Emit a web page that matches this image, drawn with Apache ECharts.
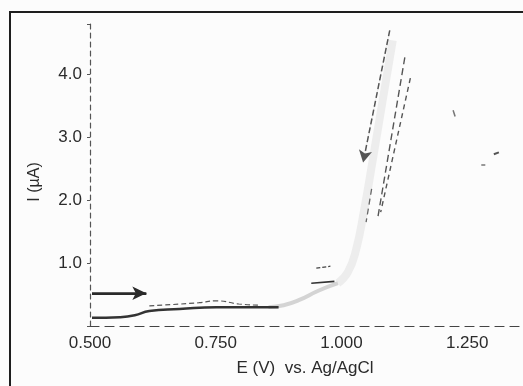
<!DOCTYPE html>
<html><head><meta charset="utf-8">
<script src="https://cdn.jsdelivr.net/npm/echarts@6/dist/echarts.min.js"></script>
<style>html,body{margin:0;padding:0;background:#fcfcfc}#c{width:523px;height:386px}</style>
</head><body><div id="c"></div>
<script>
// ---- data (E in V vs Ag/AgCl, I in µA) ----
const xTicks = [0.5, 0.75, 1.0, 1.25];
const yTicks = [1, 2, 3, 4];
const baseE = [0.504, 0.559, 0.589, 0.618, 0.678, 0.751, 0.816, 0.875];
const baseI = [0.13, 0.14, 0.17, 0.24, 0.27, 0.30, 0.30, 0.30];
const upperE = [0.618, 0.717, 0.751, 0.796, 0.836];
const upperI = [0.32, 0.37, 0.40, 0.35, 0.33];
const riseLowE = [0.855, 0.885, 0.915, 0.954, 0.993];
const riseLowI = [0.30, 0.33, 0.41, 0.56, 0.68];
const riseHighE = [0.993, 1.013, 1.029, 1.045, 1.062, 1.082, 1.102];
const riseHighI = [0.68, 0.86, 1.21, 1.84, 2.63, 3.59, 4.54];
const segHiE = [0.950, 0.978];
const segHiI = [0.92, 0.95];
const segLoE = [0.940, 0.986];
const segLoI = [0.68, 0.71];
const sweep1E = [1.096, 1.043];
const sweep1I = [4.70, 2.60];
const sweep1bE = [1.060, 1.049];
const sweep1bI = [2.18, 1.65];
const sweep2E = [1.126, 1.072];
const sweep2I = [4.27, 1.71];
const sweep3E = [1.137, 1.078];
const sweep3I = [3.94, 1.81];
const fragAE = [1.222, 1.226];
const fragAI = [3.43, 3.33];
const fragBE = [1.303, 1.313];
const fragBI = [2.73, 2.76];
const fragCE = [1.278, 1.286];
const fragCI = [2.56, 2.56];
const arrowE = [0.504, 0.612];
const arrowI = [0.52, 0.52];

const zip = (a, b) => a.map((v, i) => [v, b[i]]);
const FONT = '"Liberation Sans", Arial, sans-serif';
const INK = '#2b2b2b';

function seg(E, I, opt) {
  return Object.assign({
    type: 'line', data: zip(E, I), showSymbol: false, silent: true,
    lineStyle: { color: INK, width: 1.5 }
  }, opt || {});
}

const chart = echarts.init(document.getElementById('c'), null, { renderer: 'canvas' });
chart.setOption({
  backgroundColor: '#fcfcfc',
  animation: false,
  grid: { left: 90, right: 0, top: 24, bottom: 60 },
  xAxis: {
    type: 'value', min: 0.5, max: 1.355, interval: 0.25,
    name: 'E (V)  vs. Ag/AgCl', nameLocation: 'middle', nameGap: 34,
    nameTextStyle: { fontFamily: FONT, fontSize: 17, color: INK },
    axisLine: { show: true, lineStyle: { color: '#444', type: [9, 6], width: 1.2 } },
    axisTick: { show: false },
    splitLine: { show: false },
    axisLabel: {
      fontFamily: FONT, fontSize: 17, color: INK, margin: 9,
      formatter: v => xTicks.some(t => Math.abs(t - v) < 1e-6) ? v.toFixed(3) : ''
    }
  },
  yAxis: {
    type: 'value', min: 0, max: 4.8, interval: 1,
    name: 'I (\u00b5A)', nameLocation: 'middle', nameGap: 47, nameRotate: 90,
    nameTextStyle: { fontFamily: FONT, fontSize: 16, color: INK, padding: [0, 0, 0, -14] },
    axisLine: { show: true, lineStyle: { color: '#555', type: [5, 4], width: 1.2 } },
    axisTick: { show: true, length: 3, lineStyle: { color: '#555' } },
    splitLine: { show: false },
    axisLabel: {
      fontFamily: FONT, fontSize: 17, color: INK, margin: 8,
      formatter: v => yTicks.some(t => Math.abs(t - v) < 1e-6) ? v.toFixed(1) : ''
    }
  },
  graphic: [{
    type: 'rect', shape: { x: 10, y: 12, width: 600, height: 500 },
    style: { fill: 'none', stroke: '#1e1e1e', lineWidth: 2 }, silent: true
  }],
  series: [
    seg(riseHighE, riseHighI, { smooth: true, lineStyle: { color: '#ededed', width: 8 } }),
    seg(riseLowE, riseLowI, { smooth: true, lineStyle: { color: '#d4d4d4', width: 4 } }),
    seg(baseE, baseI, { smooth: true, lineStyle: { color: '#333', width: 2.5 } }),
    seg(upperE, upperI, { smooth: true, lineStyle: { color: '#555', width: 1.2, type: [5, 3] } }),
    seg(segHiE, segHiI, { lineStyle: { color: '#444', width: 1.3, type: [4, 2] } }),
    seg(segLoE, segLoI, { lineStyle: { color: '#333', width: 1.6 } }),
    seg(sweep1E, sweep1I, {
      lineStyle: { color: '#555', width: 1.5, type: [6, 3] },
      markLine: {
        silent: true, symbol: ['none', 'arrow'], symbolSize: [10, 12],
        label: { show: false },
        lineStyle: { color: '#555', width: 0.1, type: 'solid' },
        data: [[{ coord: [sweep1E[0], sweep1I[0]] }, { coord: [sweep1E[1], sweep1I[1]] }]]
      }
    }),
    seg(sweep1bE, sweep1bI, { lineStyle: { color: '#666', width: 1.3, type: [6, 4] } }),
    seg(sweep2E, sweep2I, { lineStyle: { color: '#555', width: 1.4, type: [7, 4] } }),
    seg(sweep3E, sweep3I, { lineStyle: { color: '#555', width: 1.4, type: [5, 4] } }),
    seg(fragAE, fragAI, { lineStyle: { color: '#777', width: 1.5 } }),
    seg(fragBE, fragBI, { lineStyle: { color: '#555', width: 2 } }),
    seg(fragCE, fragCI, { lineStyle: { color: '#777', width: 1.5 } }),
    seg(arrowE, arrowI, {
      lineStyle: { color: '#2a2a2a', width: 2 },
      markLine: {
        silent: true, symbol: ['none', 'arrow'], symbolSize: [10, 14],
        label: { show: false },
        lineStyle: { color: '#2a2a2a', width: 2, type: 'solid' },
        data: [[{ coord: [arrowE[0], arrowI[0]] }, { coord: [arrowE[1], arrowI[1]] }]]
      }
    })
  ]
});
</script></body></html>
